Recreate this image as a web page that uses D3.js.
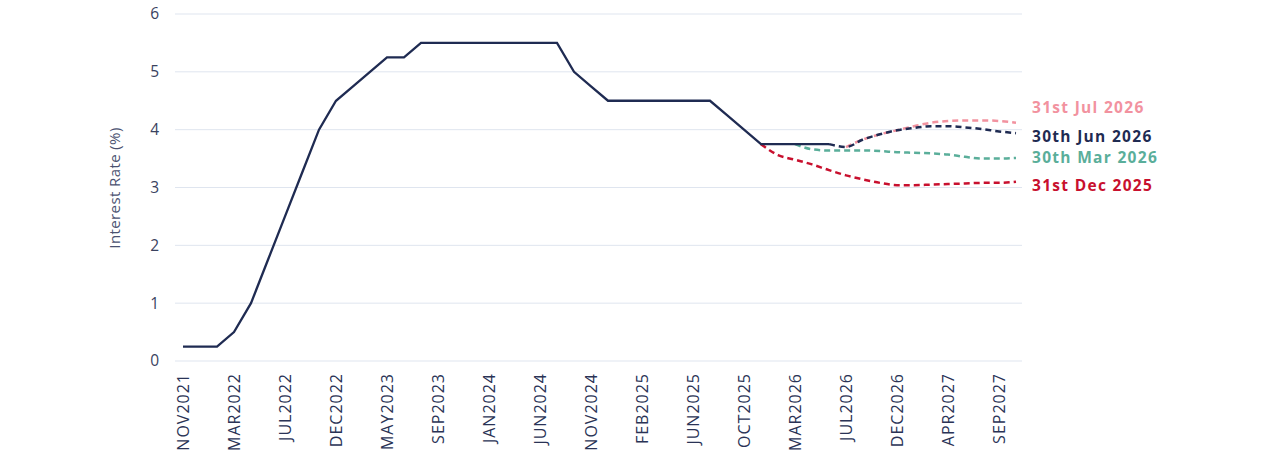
<!DOCTYPE html>
<html>
<head>
<meta charset="utf-8">
<script src="https://cdn.jsdelivr.net/npm/d3@7"></script>
<style>
  html, body { margin: 0; padding: 0; background: #ffffff; }
  svg { display: block; font-family: "Open Sans", "Noto Sans", sans-serif; }
</style>
</head>
<body>
<svg id="chart" width="1269" height="464"></svg>
<script>
// ---- data ----
const dates = ["NOV2021","DEC2021","JAN2022","MAR2022","MAY2022","JUN2022","JUL2022","SEP2022","NOV2022","DEC2022",
  "FEB2023","MAR2023","MAY2023","JUN2023","JUL2023","SEP2023","NOV2023","DEC2023","JAN2024","MAR2024",
  "MAY2024","JUN2024","JUL2024","SEP2024","NOV2024","DEC2024","JAN2025","FEB2025","MAR2025","MAY2025",
  "JUN2025","JUL2025","SEP2025","OCT2025","DEC2025","JAN2026","MAR2026","APR2026","JUN2026","JUL2026",
  "SEP2026","OCT2026","DEC2026","JAN2027","MAR2027","APR2027","JUN2027","JUL2027","SEP2027","OCT2027"];
const tickLabels = ["NOV2021","MAR2022","JUL2022","DEC2022","MAY2023","SEP2023","JAN2024","JUN2024","NOV2024",
  "FEB2025","JUN2025","OCT2025","MAR2026","JUL2026","DEC2026","APR2027","SEP2027"];
const yTicks = [0,1,2,3,4,5,6];

const actualStart = "NOV2021";
const actual = [0.25,0.25,0.25,0.5,1.0,1.75,2.5,3.25,4.0,4.5,4.75,5.0,5.25,5.25,5.5,5.5,5.5,5.5,5.5,5.5,
  5.5,5.5,5.5,5.0,4.75,4.5,4.5,4.5,4.5,4.5,4.5,4.5,4.25,4.0,3.75,3.75,3.75,3.75,3.75];

const dec25Start = "DEC2025";
const dec25 = [3.75,3.56,3.48,3.40,3.30,3.21,3.14,3.08,3.04,3.04,3.05,3.06,3.07,3.08,3.08,3.10];
const mar26Start = "MAR2026";
const mar26 = [3.75,3.66,3.64,3.64,3.64,3.63,3.61,3.60,3.59,3.57,3.53,3.50,3.50,3.51];
const jun26Start = "JUN2026";
const jun26 = [3.75,3.70,3.83,3.92,3.99,4.03,4.06,4.06,4.04,4.01,3.97,3.94];
const jul26Start = "JUL2026";
const jul26 = [3.70,3.83,3.92,3.99,4.06,4.12,4.15,4.16,4.16,4.15,4.12];

const seriesNames = ["31st Jul 2026","30th Jun 2026","30th Mar 2026","31st Dec 2025"];

// ---- chart ----
const svg = d3.select("#chart");
const x = d3.scalePoint().domain(dates).range([183, 1016]);
const y = d3.scaleLinear().domain([0, 6]).range([361, 14]);

const navy = "#1f2b52", pink = "#f2929f", teal = "#5aae9a", red = "#c8102e";
const FONT = "'Open Sans', 'Noto Sans', sans-serif";

// gridlines
svg.append("g").selectAll("line").data(yTicks).join("line")
  .attr("x1", 175).attr("x2", 1022)
  .attr("y1", d => y(d)).attr("y2", d => y(d))
  .attr("stroke", "#dfe5ef").attr("stroke-width", 1);

// y axis
const yAxis = svg.append("g").attr("transform", "translate(159,0)")
  .call(d3.axisLeft(y).tickValues(yTicks).tickSize(0).tickPadding(0).tickFormat(d3.format("d")));
yAxis.attr("font-family", FONT);
yAxis.select(".domain").remove();
yAxis.selectAll("text").attr("font-size", 15.5).attr("fill", "#3a4260");

// y title
svg.append("text")
  .attr("transform", "translate(120,188) rotate(-90)")
  .attr("text-anchor", "middle")
  .attr("font-size", 15).attr("letter-spacing", 0.4).attr("fill", "#4a5170")
  .text("Interest Rate (%)");

// x axis
const xAxis = svg.append("g").attr("transform", "translate(0,373)")
  .call(d3.axisBottom(x).tickValues(tickLabels).tickSize(0).tickPadding(0));
xAxis.attr("font-family", FONT);
xAxis.select(".domain").remove();
xAxis.selectAll("text")
  .attr("font-size", 16).attr("letter-spacing", 1).attr("fill", "#2a3356")
  .attr("transform", "rotate(-90)")
  .attr("text-anchor", "end")
  .attr("dx", 0).attr("dy", "0.35em")
  .attr("x", 0).attr("y", 0);

function pts(start, vals) {
  const i0 = dates.indexOf(start);
  return vals.map((v, i) => [dates[i0 + i], v]);
}
const lineSmooth = d3.line().x(d => x(d[0])).y(d => y(d[1])).curve(d3.curveMonotoneX);
const lineStraight = d3.line().x(d => x(d[0])).y(d => y(d[1]));

const fc = [
  {data: pts(dec25Start, dec25), color: red},
  {data: pts(mar26Start, mar26), color: teal},
  {data: pts(jul26Start, jul26), color: pink},
  {data: pts(jun26Start, jun26), color: navy}
];
svg.append("g").selectAll("path").data(fc).join("path")
  .attr("d", d => lineSmooth(d.data))
  .attr("fill", "none").attr("stroke", d => d.color)
  .attr("stroke-width", 2.5).attr("stroke-dasharray", "6,4");

svg.append("path")
  .attr("d", lineStraight(pts(actualStart, actual)))
  .attr("fill", "none").attr("stroke", navy).attr("stroke-width", 2.3)
  .attr("stroke-linejoin", "miter");

// end labels
const labels = [
  {t: seriesNames[0], c: pink, y: 108},
  {t: seriesNames[1], c: navy, y: 137},
  {t: seriesNames[2], c: teal, y: 158},
  {t: seriesNames[3], c: red, y: 186}
];
svg.append("g").selectAll("text").data(labels).join("text")
  .attr("x", 1032).attr("y", d => d.y).attr("dy", "0.35em")
  .attr("font-size", 15.5).attr("font-weight", 700).attr("letter-spacing", 1.3)
  .attr("fill", d => d.c).text(d => d.t);
</script>
</body>
</html>
